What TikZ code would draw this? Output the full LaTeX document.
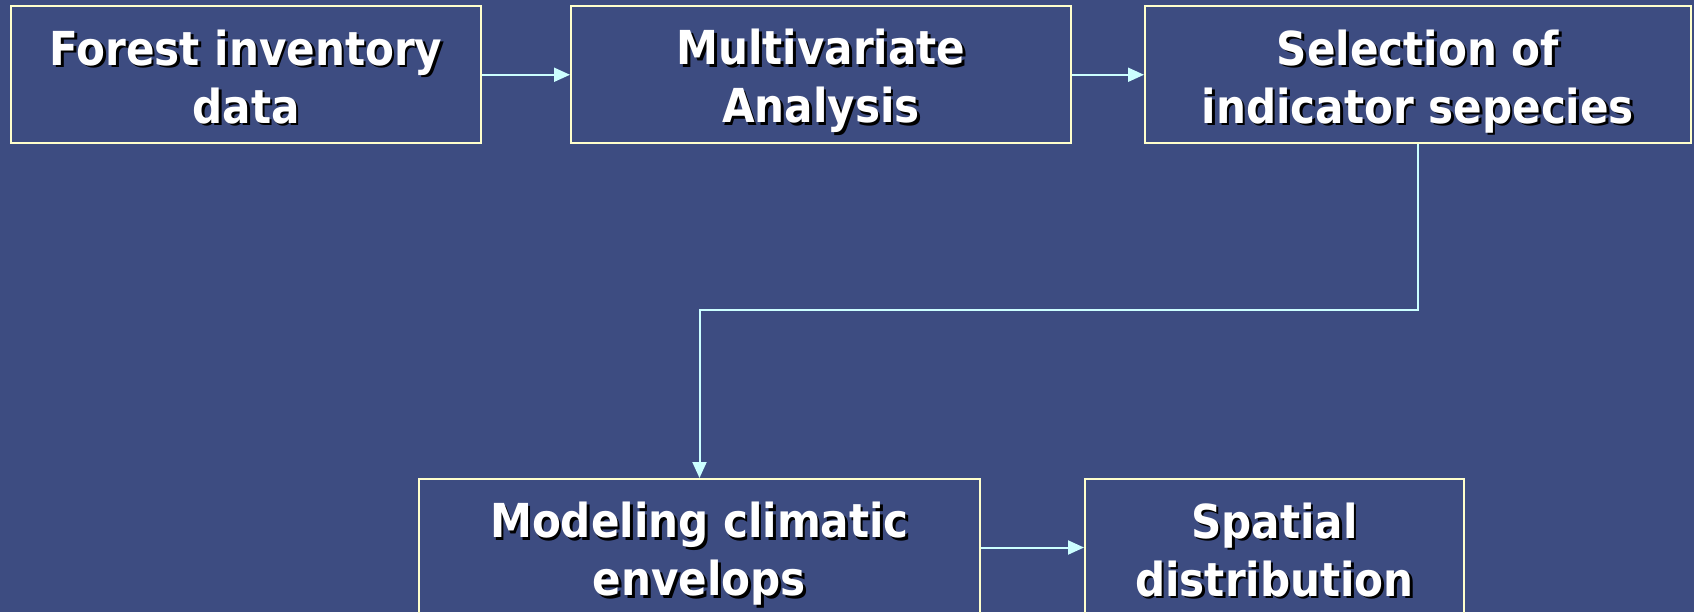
\documentclass[tikz,border=0pt]{standalone}
\usepackage{fontspec}
\setmainfont{DejaVu Sans Condensed}
\usetikzlibrary{arrows.meta,calc}
\definecolor{bgblue}{RGB}{61,76,129}
\definecolor{boxline}{RGB}{255,255,204}
\definecolor{arrline}{RGB}{204,255,255}
\newcommand{\shl}[1]{\rlap{\kern1.3pt\raisebox{-1.3pt}{\textcolor{black}{#1}}}#1}
\newcommand{\twol}[2]{\rule{0pt}{25.5pt}\shl{#1}\\\rule[-6pt]{0pt}{6pt}\shl{#2}}
\tikzset{
  flowbox/.style={draw=boxline, line width=1pt, text=white, align=center,
    minimum height=68.5pt, inner sep=0pt,
    font=\fontsize{23.4}{29}\selectfont\bfseries},
  arr/.style={draw=arrline, line width=1pt,
    -{Triangle[length=8pt,width=7pt]}}
}
\begin{document}
\begin{tikzpicture}[x=0.5pt,y=-0.5pt]
\clip (0,0) rectangle (1694,612);
\fill[bgblue] (0,0) rectangle (1694,612);
\node[flowbox, minimum width=235pt] (b1) at (246,74.75) {\twol{Forest inventory}{data}};
\node[flowbox, minimum width=250pt] (b2) at (821,74.75) {\twol{Multivariate}{Analysis}};
\node[flowbox, minimum width=273pt] (b3) at (1418,74.75) {\twol{Selection of}{indicator sepecies}};
\node[flowbox, minimum width=280.5pt] (b4) at (699.5,547.5) {\twol{Modeling climatic}{envelops}};
\node[flowbox, minimum width=189.5pt] (b5) at (1274.5,547.5) {\twol{Spatial}{distribution}};
\coordinate (mid) at (0,310);
\draw[arr] (b1) -- (b2);
\draw[arr] (b2) -- (b3);
\draw[arr] (b3.south) -- (b3.south |- mid) -| (b4.north);
\draw[arr] (b4) -- (b5);
\end{tikzpicture}
\end{document}
